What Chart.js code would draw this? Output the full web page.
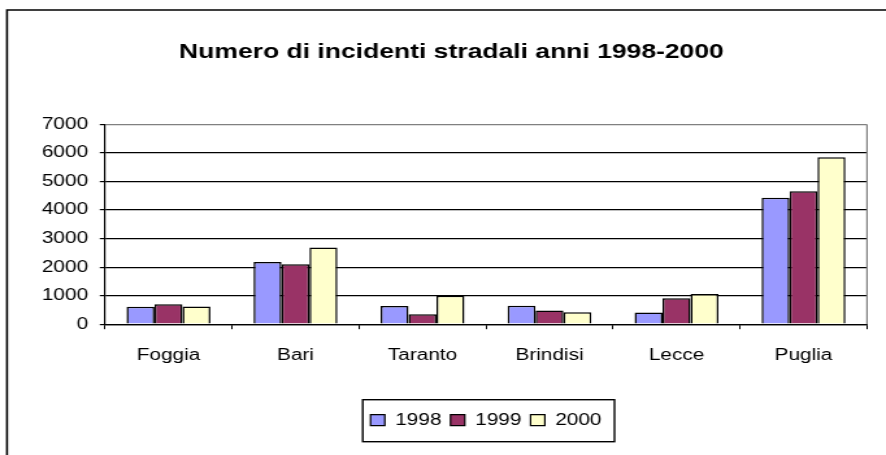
<!DOCTYPE html>
<html>
<head>
<meta charset="utf-8">
<script src="https://cdn.jsdelivr.net/npm/chart.js@4.4.1/dist/chart.umd.min.js"></script>
<style>
  html, body { margin: 0; padding: 0; background: #ffffff; overflow: hidden; }
  #wrap { width: 682px; height: 455px; transform: scaleX(1.2991); transform-origin: 0 0; }
</style>
</head>
<body>
<div id="wrap"><canvas id="c" width="682" height="455"></canvas></div>
<script>
const titleText = 'Numero di incidenti stradali anni 1998-2000';
const categories = ['Foggia', 'Bari', 'Taranto', 'Brindisi', 'Lecce', 'Puglia'];
const seriesNames = ['1998', '1999', '2000'];
const values1998 = [610, 2180, 640, 650, 410, 4430];
const values1999 = [700, 2100, 350, 480, 910, 4660];
const values2000 = [620, 2690, 1000, 420, 1060, 5850];
const yTicks = [0, 1000, 2000, 3000, 4000, 5000, 6000, 7000];

const FONT = "'Liberation Sans', Arial, sans-serif";

const framePlugin = {
  id: 'frame',
  beforeDraw(chart) {
    const ctx = chart.ctx;
    ctx.save();
    ctx.fillStyle = '#ffffff';
    ctx.fillRect(0, 0, chart.width, chart.height);
    ctx.strokeStyle = '#000000';
    ctx.lineWidth = 1.6;
    ctx.beginPath();
    ctx.moveTo(5.4, chart.height + 5);
    ctx.lineTo(5.4, 10);
    ctx.lineTo(chart.width + 5, 10);
    ctx.stroke();
    ctx.restore();
  },
  afterDraw(chart) {
    const ctx = chart.ctx;
    const a = chart.chartArea;
    ctx.save();
    ctx.strokeStyle = '#808080';
    ctx.lineWidth = 1.2;
    ctx.beginPath();
    ctx.moveTo(a.right, a.top);
    ctx.lineTo(a.right, a.bottom);
    ctx.stroke();
    const lg = chart.legend;
    if (lg && lg.legendHitBoxes && lg.legendHitBoxes.length) {
      const hb = lg.legendHitBoxes;
      const first = hb[0], last = hb[hb.length - 1];
      const cy = first.top + first.height / 2;
      const x0 = first.left - 6;
      const x1 = last.left + last.width + 10;
      ctx.strokeStyle = '#000000';
      ctx.lineWidth = 1.4;
      ctx.strokeRect(x0, cy - 20.5, x1 - x0, 42);
    }
    ctx.restore();
  }
};

new Chart(document.getElementById('c'), {
  type: 'bar',
  data: {
    labels: categories,
    datasets: [
      { label: seriesNames[0], data: values1998, backgroundColor: '#9999FF', borderColor: '#000000', borderWidth: 1.5 },
      { label: seriesNames[1], data: values1999, backgroundColor: '#993366', borderColor: '#000000', borderWidth: 1.5 },
      { label: seriesNames[2], data: values2000, backgroundColor: '#FFFFCC', borderColor: '#000000', borderWidth: 1.5 }
    ]
  },
  options: {
    responsive: false,
    animation: false,
    devicePixelRatio: 1,
    categoryPercentage: 0.66,
    barPercentage: 1.0,
    layout: { padding: { left: 13, right: 0, top: 0, bottom: 16.8 } },
    plugins: {
      title: {
        display: true,
        text: titleText,
        color: '#000000',
        font: { family: FONT, size: 20.4, weight: 'bold' },
        padding: { top: 40, bottom: 60 }
      },
      legend: {
        display: true,
        position: 'bottom',
        fullSize: false,
        labels: {
          color: '#000000',
          font: { family: FONT, size: 16 },
          boxWidth: 11,
          boxHeight: 11,
          padding: 7,
          generateLabels(chart) {
            return chart.data.datasets.map((ds, i) => ({
              text: ds.label,
              fillStyle: ds.backgroundColor,
              strokeStyle: '#000000',
              lineWidth: 1.2,
              hidden: false,
              datasetIndex: i,
              fontColor: '#000000'
            }));
          }
        }
      },
      tooltip: { enabled: false }
    },
    scales: {
      x: {
        offset: true,
        grid: {
          offset: true,
          drawOnChartArea: false,
          drawTicks: true,
          tickLength: 5,
          tickColor: '#000000',
          color: '#000000'
        },
        border: { color: '#000000', width: 1.2 },
        ticks: { color: '#000000', font: { family: FONT, size: 16 }, padding: 17, maxRotation: 0 },
        afterFit(scale) { scale.height = 81; }
      },
      y: {
        min: 0,
        max: 7000,
        afterBuildTicks(scale) { scale.ticks = yTicks.map(v => ({ value: v })); },
        grid: {
          color: (ctx) => (ctx.tick && ctx.tick.value === 7000 ? '#808080' : '#000000'),
          lineWidth: 1.2,
          drawTicks: true,
          tickLength: 4,
          tickColor: '#000000'
        },
        border: { color: '#000000', width: 1.2 },
        ticks: { color: '#000000', font: { family: FONT, size: 16 }, padding: 9, callback: (v) => String(v) },
        afterFit(scale) { scale.width = 67.8; }
      },
      yRight: {
        position: 'right',
        display: true,
        min: 0,
        max: 7000,
        grid: { drawOnChartArea: false, drawTicks: false },
        border: { display: false },
        ticks: { display: false },
        afterFit(scale) { scale.width = 14.6; }
      }
    }
  },
  plugins: [framePlugin]
});
</script>
</body>
</html>
